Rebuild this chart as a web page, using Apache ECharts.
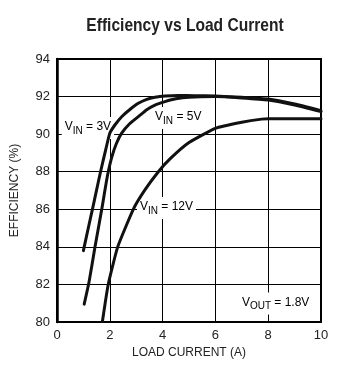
<!DOCTYPE html>
<html><head><meta charset="utf-8">
<script src="https://cdn.jsdelivr.net/npm/echarts@6/dist/echarts.min.js"></script>
<style>html,body{margin:0;padding:0;background:#fff}#c{width:338px;height:372px}</style>
</head><body><div id="c"></div>
<script>
// ---- text ----
const titleText = 'Efficiency vs Load Current';
const xName = 'LOAD CURRENT (A)';
const yName = 'EFFICIENCY (%)';
// ---- axis ticks ----
const xTicks = [0, 2, 4, 6, 8, 10];
const yTicks = [80, 82, 84, 86, 88, 90, 92, 94];
// ---- series (load current A, efficiency %) ----
const vin3Current = [1.0, 1.2, 1.35, 1.48, 1.65, 1.85, 2.0, 2.2, 2.45, 2.75, 3.08, 3.4, 3.71, 4.09, 4.6, 5.2, 6.0, 7.0, 8.0, 9.0, 10.0];
const vin3Eff     = [83.8, 85.1, 86.05, 86.9, 88.0, 89.2, 90.05, 90.5, 90.93, 91.3, 91.64, 91.85, 91.96, 92.03, 92.06, 92.05, 92.03, 91.96, 91.87, 91.6, 91.25];
const vin5Current = [1.03, 1.21, 1.44, 1.72, 1.82, 1.92, 2.07, 2.25, 2.45, 2.75, 3.08, 3.4, 3.71, 4.09, 4.5, 5.0, 6.0, 7.0, 8.0, 9.0, 10.0];
const vin5Eff     = [80.95, 82.1, 84.0, 86.2, 87.05, 87.85, 88.75, 89.5, 90.05, 90.55, 90.93, 91.3, 91.55, 91.73, 91.88, 91.97, 92.0, 91.93, 91.82, 91.55, 91.2];
const vin12Current = [1.72, 1.94, 2.3, 2.89, 3.33, 3.84, 4.28, 5.0, 6.0, 7.0, 7.75, 8.0, 9.0, 10.0];
const vin12Eff     = [80.03, 82.0, 84.0, 86.0, 87.03, 88.0, 88.68, 89.55, 90.31, 90.63, 90.8, 90.82, 90.82, 90.82];
// ---- annotations ----
const noteTexts = ['{m|V}{s|IN}{m| = 3V}', '{m|V}{s|IN}{m| = 5V}', '{m|V}{s|IN}{m| = 12V}', '{m|V}{s|OUT}{m| = 1.8V}'];
const noteAt = [[0.18, 90.33], [3.6, 90.86], [3.03, 86.07], [6.89, 80.99]];

const pair = (xs, ys) => xs.map((x, i) => [x, ys[i]]);
const chart = echarts.init(document.getElementById('c'), null, {renderer: 'canvas'});
const tickFont = {fontFamily: 'Liberation Sans, Arial, sans-serif', fontSize: 13, color: '#222'};
const nameFont = {fontFamily: 'Liberation Sans, Arial, sans-serif', fontSize: 12, color: '#222'};
const lineStyle = {color: '#111', width: 3, join: 'round', cap: 'round'};
const mk = (xs, ys, name) => ({
  type: 'line', name, data: pair(xs, ys), showSymbol: false, symbol: 'none',
  smooth: 0.15, lineStyle, z: 3, animation: false
});
chart.setOption({
  animation: false,
  backgroundColor: '#fff',
  grid: {left: 57, right: 17, top: 59, bottom: 50, show: true, borderColor: '#000', borderWidth: 2, backgroundColor: 'transparent'},
  xAxis: {
    type: 'value', min: xTicks[0], max: xTicks[xTicks.length - 1], interval: xTicks[1] - xTicks[0],
    name: xName, nameLocation: 'middle', nameGap: 25, nameTextStyle: nameFont,
    axisLine: {show: true, lineStyle: {color: '#000', width: 2}},
    axisTick: {show: false},
    axisLabel: Object.assign({margin: 7}, tickFont),
    splitLine: {show: true, lineStyle: {color: '#000', width: 1}}
  },
  yAxis: {
    type: 'value', min: yTicks[0], max: yTicks[yTicks.length - 1], interval: yTicks[1] - yTicks[0],
    name: yName, nameLocation: 'middle', nameGap: 36, nameTextStyle: nameFont,
    axisLine: {show: true, lineStyle: {color: '#000', width: 2.5}},
    axisTick: {show: false},
    axisLabel: Object.assign({margin: 7}, tickFont),
    splitLine: {show: true, lineStyle: {color: '#000', width: 1}}
  },
  series: [mk(vin3Current, vin3Eff, 'VIN = 3V'), mk(vin5Current, vin5Eff, 'VIN = 5V'), mk(vin12Current, vin12Eff, 'VIN = 12V')]
});
const rich = {
  m: {fontFamily: 'Liberation Sans, Arial, sans-serif', fontSize: 12, lineHeight: 14, verticalAlign: 'top', color: '#222'},
  s: {fontFamily: 'Liberation Sans, Arial, sans-serif', fontSize: 10, lineHeight: 10, padding: [5, 0, 0, 0], verticalAlign: 'top', color: '#222'}
};
const notes = noteTexts.map((t, i) => {
  const p = chart.convertToPixel({gridIndex: 0}, noteAt[i]);
  return {
    type: 'text', x: p[0], y: p[1], z: 1,
    style: {text: t, rich, align: 'left', verticalAlign: 'middle', backgroundColor: '#fff', padding: [4, 3, 4, 3]}
  };
});
notes.push({
  type: 'text', x: 185, y: 26, scaleX: 0.82, z: 5,
  style: {text: titleText, font: 'bold 19px "Liberation Sans", Arial, sans-serif', fill: '#222', align: 'center', verticalAlign: 'middle'}
});
chart.setOption({graphic: notes});
</script></body></html>
